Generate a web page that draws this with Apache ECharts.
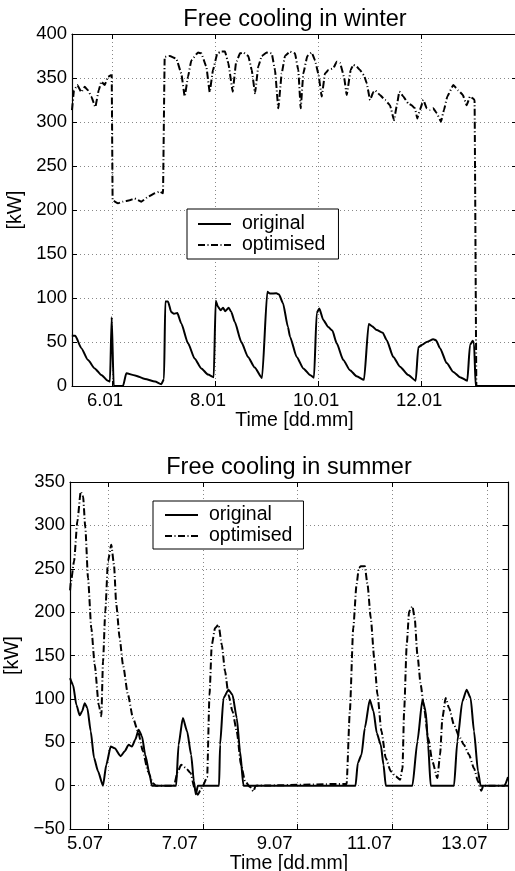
<!DOCTYPE html>
<html>
<head>
<meta charset="utf-8">
<script src="https://cdn.jsdelivr.net/npm/echarts@6/dist/echarts.min.js"></script>
<style>
    html, body { margin: 0; padding: 0; background: #fff; }
    #chart { width: 515px; height: 871px; }
</style>
</head>
<body>
<div id="chart"></div>
<script>
// time axis in days of the month, power in kW
const winterTicks = [6, 8, 10, 12];
const winterTickLabels = ['6.01', '8.01', '10.01', '12.01'];
const summerTicks = [5, 7, 9, 11, 13];
const summerTickLabels = ['5.07', '7.07', '9.07', '11.07', '13.07'];
const legendNames = ['original', 'optimised'];

const winterOriginal = [
    [5.22, 57], [5.287, 57], [5.404, 43], [5.534, 29.5], [5.664, 20], [5.792, 12.5], [5.922, 6], [5.96, 5],
    [5.994, 78], [6.033, 0], [6.214, 0], [6.278, 14.4], [6.447, 12], [6.64, 8], [6.835, 5], [6.957, 2],
    [7.01, 8], [7.035, 96], [7.087, 96], [7.151, 84], [7.204, 82], [7.268, 83], [7.346, 71], [7.476, 48.5],
    [7.606, 31], [7.734, 20], [7.864, 13], [7.975, 10], [8.014, 97], [8.058, 90], [8.111, 86], [8.155, 89],
    [8.2, 85], [8.266, 89], [8.317, 84], [8.383, 73], [8.511, 50], [8.641, 33], [8.771, 21], [8.913, 9],
    [9.016, 107], [9.068, 105], [9.19, 105.5], [9.243, 104], [9.32, 94], [9.417, 67], [9.456, 56], [9.586, 33],
    [9.715, 20], [9.845, 12.5], [9.922, 9.5], [9.975, 83], [10.025, 88], [10.103, 75], [10.2, 67], [10.278, 63],
    [10.363, 48.5], [10.491, 29.5], [10.621, 18], [10.751, 11], [10.893, 7], [10.984, 70.5], [11.049, 68],
    [11.14, 63.6], [11.256, 60.6], [11.334, 52], [11.462, 33], [11.592, 22], [11.753, 12.5], [11.897, 6],
    [11.948, 44], [12.014, 46.6], [12.111, 50], [12.239, 53], [12.291, 52], [12.369, 43], [12.499, 26],
    [12.627, 16], [12.757, 10], [12.899, 6], [12.951, 46.6], [13.004, 51.5], [13.03, 48], [13.062, 0], [13.87, 0]
];

const winterOptimised = [
    [5.223, 313.6], [5.262, 336], [5.326, 342], [5.404, 334], [5.47, 340], [5.534, 336], [5.598, 329],
    [5.676, 317], [5.742, 336], [5.792, 346], [5.858, 342], [5.922, 351.5], [5.975, 353], [5.994, 353],
    [6.012, 211], [6.117, 207.6], [6.214, 209.5], [6.344, 211], [6.441, 213], [6.569, 209.5], [6.699, 215],
    [6.829, 219], [6.926, 221], [6.99, 219], [7.023, 374], [7.12, 375], [7.249, 372], [7.346, 355],
    [7.412, 329], [7.476, 351.5], [7.54, 370], [7.67, 379], [7.734, 378], [7.831, 363], [7.897, 334],
    [7.961, 359], [8.045, 378], [8.122, 380], [8.194, 380], [8.258, 367], [8.344, 334.5], [8.408, 367],
    [8.485, 378], [8.55, 379], [8.647, 375], [8.713, 359], [8.777, 332.6], [8.841, 363], [8.907, 375],
    [9.004, 379], [9.101, 378], [9.165, 359], [9.229, 315.5], [9.295, 355], [9.359, 375], [9.456, 380],
    [9.553, 378], [9.617, 359], [9.664, 315.5], [9.715, 355], [9.792, 375], [9.878, 379], [9.942, 370],
    [10.006, 355], [10.072, 329], [10.136, 355], [10.2, 359], [10.297, 361], [10.363, 368.6], [10.427, 367],
    [10.505, 351.5], [10.557, 330.7], [10.635, 359], [10.685, 365], [10.751, 363], [10.816, 359], [10.893, 353],
    [10.946, 344], [11.01, 325], [11.074, 334], [11.107, 336], [11.204, 330.7], [11.301, 325], [11.398, 319],
    [11.476, 302], [11.528, 318], [11.579, 334.5], [11.656, 329], [11.753, 321], [11.819, 319], [11.883, 315.5],
    [11.928, 304], [11.981, 314], [12.045, 325], [12.111, 315.5], [12.175, 314], [12.239, 315.5], [12.305, 310],
    [12.388, 300.4], [12.447, 314], [12.511, 329], [12.627, 342], [12.724, 336], [12.81, 331], [12.887, 319],
    [12.951, 329], [13.004, 327], [13.04, 325], [13.075, 0], [13.87, 0]
];

const summerOriginal = [
    [4.2, 124], [4.263, 116], [4.333, 93], [4.404, 81], [4.453, 85.7], [4.509, 95], [4.564, 89.5],
    [4.636, 62.6], [4.705, 32], [4.789, 16.6], [4.895, 0], [4.964, 24], [5.057, 45], [5.141, 43], [5.267, 34],
    [5.352, 39.6], [5.436, 47], [5.505, 45], [5.575, 53], [5.646, 64.5], [5.716, 57], [5.785, 35.6],
    [5.878, 12.6], [5.926, 0], [6.438, 0], [6.488, 47], [6.579, 78], [6.669, 62.6], [6.754, 35.6], [6.811, 5],
    [6.853, -10], [6.895, 0], [7.343, 0], [7.364, 47], [7.436, 101], [7.541, 110.6], [7.625, 104.8],
    [7.716, 78], [7.785, 39.6], [7.857, 0], [10.221, 0], [10.269, 26], [10.347, 35.6], [10.417, 66.4],
    [10.522, 99], [10.6, 85.7], [10.669, 60.7], [10.754, 47], [10.811, 24], [10.859, 0], [11.421, 0],
    [11.526, 51], [11.632, 99], [11.701, 85.7], [11.752, 47], [11.806, 0], [12.299, 0], [12.368, 51],
    [12.474, 97], [12.564, 110.6], [12.648, 101], [12.72, 62.6], [12.804, 16.6], [12.859, 0], [13.364, 0],
    [13.437, 10]
];

const summerOptimised = [
    [4.2, 225], [4.215, 233.6], [4.284, 258.6], [4.354, 304.7], [4.425, 339], [4.474, 333.5], [4.522, 297],
    [4.579, 239], [4.648, 181.7], [4.72, 139.4], [4.804, 93.3], [4.859, 80], [4.895, 143], [4.943, 201],
    [5.0, 258.6], [5.069, 277.7], [5.126, 254.7], [5.175, 208.6], [5.246, 170], [5.316, 139.4], [5.421, 104.8],
    [5.526, 78], [5.632, 62.6], [5.737, 39.6], [5.842, 16.5], [5.947, 3], [6.011, 0], [6.389, 0], [6.474, 16.5],
    [6.543, 24], [6.648, 20], [6.741, 14.5], [6.825, -2.7], [6.895, -10.5], [6.952, -5], [7.0, 0], [7.091, 10],
    [7.141, 104.8], [7.189, 162.5], [7.259, 181.7], [7.331, 185.5], [7.4, 162.5], [7.469, 131.8], [7.541, 104.8],
    [7.625, 85.7], [7.716, 62.6], [7.806, 24], [7.891, 5], [7.996, -1.4], [8.067, -6.6], [8.116, 0],
    [10.032, 2], [10.101, 85.7], [10.173, 181.7], [10.242, 231.6], [10.291, 251], [10.333, 252.8],
    [10.417, 252.8], [10.474, 231.6], [10.543, 193], [10.615, 147], [10.684, 104.8], [10.768, 62.6],
    [10.859, 31.8], [10.964, 16.5], [11.069, 10.7], [11.162, 6.8], [11.211, 20], [11.246, 85.7], [11.301, 162.5],
    [11.352, 201], [11.421, 206.7], [11.469, 193], [11.526, 151], [11.596, 116], [11.667, 89.5], [11.752, 55],
    [11.842, 28], [11.947, 8.8], [12.004, 35.6], [12.053, 78], [12.122, 101], [12.194, 89.5], [12.299, 70],
    [12.404, 57], [12.509, 47], [12.615, 35.6], [12.72, 20], [12.804, 5], [12.874, -6], [12.916, 0], [13.437, 0]
];

const font = "'Liberation Sans', Arial, Helvetica, sans-serif";
const dashDot = [7, 2.5, 1, 2.5];

function bottomAxis(grid, ticks, labels, min, max, labelRich) {
    return {
        type: 'value', gridIndex: grid, position: 'bottom', min: min, max: max,
        axisLine: {show: true, onZero: false, lineStyle: {color: '#000', width: 1.2}},
        axisTick: {show: true, inside: true, length: 5, customValues: ticks, lineStyle: {color: '#000'}},
        axisLabel: {
            customValues: ticks, margin: 5,
            formatter: v => '{t|' + labels[ticks.indexOf(v)] + '}',
            rich: {t: labelRich}
        },
        splitLine: {show: true, lineStyle: {color: '#888', type: [1, 3], width: 1}},
        name: 'Time [dd.mm]', nameLocation: 'middle', nameGap: 15,
        nameTextStyle: {fontSize: 19.5, fontFamily: font, color: '#000'}
    };
}

function topAxis(grid, ticks, min, max) {
    return {
        type: 'value', gridIndex: grid, position: 'top', min: min, max: max,
        axisLine: {show: true, onZero: false, lineStyle: {color: '#000', width: 1.2}},
        axisTick: {show: true, inside: true, length: 5, customValues: ticks, lineStyle: {color: '#000'}},
        axisLabel: {show: false},
        splitLine: {show: false}
    };
}

function leftAxis(grid, min, max, nameGap) {
    return {
        type: 'value', gridIndex: grid, position: 'left', min: min, max: max, interval: 50,
        axisLine: {show: true, onZero: false, lineStyle: {color: '#000', width: 1.2}},
        axisTick: {show: true, inside: true, length: 5, lineStyle: {color: '#000'}},
        axisLabel: {
            margin: 5, fontSize: 18.5, fontFamily: font, color: '#000',
            formatter: v => String(v).replace('-', '\u2212')
        },
        splitLine: {show: true, lineStyle: {color: '#888', type: [1, 3], width: 1}},
        name: '[kW]', nameLocation: 'middle', nameGap: nameGap, nameRotate: 90,
        nameTextStyle: {fontSize: 19.5, fontFamily: font, color: '#000'}
    };
}

function rightAxis(grid, min, max) {
    return {
        type: 'value', gridIndex: grid, position: 'right', min: min, max: max, interval: 50,
        axisLine: {show: true, onZero: false, lineStyle: {color: '#000', width: 1.2}},
        axisTick: {show: true, inside: true, length: 5, lineStyle: {color: '#000'}},
        axisLabel: {show: false},
        splitLine: {show: false}
    };
}

function lineSeries(name, data, xi, yi, smooth) {
    return {
        type: 'line', name: name, data: data, xAxisIndex: xi, yAxisIndex: yi,
        symbol: 'none', showSymbol: false, animation: false,
        smooth: smooth, smoothMonotone: 'x',
        itemStyle: {color: '#000'},
        lineStyle: {color: '#000', width: 2, type: name === 'optimised' ? dashDot : 'solid'}
    };
}

function legend(left, top, padding) {
    return {
        orient: 'vertical', left: left, top: top, padding: padding,
        itemWidth: 33, itemHeight: 14, itemGap: 1, selectedMode: false,
        borderColor: '#000', borderWidth: 1, backgroundColor: '#fff',
        itemStyle: {opacity: 0},
        textStyle: {fontSize: 19.5, fontFamily: font, color: '#000', lineHeight: 20, padding: [0, 0, 0, 6]},
        data: legendNames
    };
}

const titleStyle = {fontSize: 23.5, fontWeight: 'normal', fontFamily: font, color: '#000'};
const tickText = {fontSize: 18.5, fontFamily: font, color: '#000'};

const option = {
    backgroundColor: '#fff',
    animation: false,
    title: [
        {text: 'Free cooling in winter', left: 295, top: 8, textAlign: 'center', padding: 0, textStyle: titleStyle},
        {text: 'Free cooling in summer', left: 289, top: 456, textAlign: 'center', padding: 0, textStyle: titleStyle}
    ],
    legend: [
        legend(187, 209, [5, 13, 4, 10]),
        legend(153, 501, [4, 11, 3, 11])
    ],
    grid: [
        {left: 72, top: 34, width: 445, height: 352, outerBoundsMode: 'none'},
        {left: 70, top: 482, width: 438, height: 347, outerBoundsMode: 'none'}
    ],
    xAxis: [
        bottomAxis(0, winterTicks, winterTickLabels, 5.2233, 13.864, Object.assign({width: 50, align: 'left'}, tickText)),
        topAxis(0, winterTicks, 5.2233, 13.864),
        bottomAxis(1, summerTicks, summerTickLabels, 4.1985, 13.437, Object.assign({padding: [0, 46, 0, 0]}, tickText)),
        topAxis(1, summerTicks, 4.1985, 13.437)
    ],
    yAxis: [
        leftAxis(0, 0, 400, 37),
        rightAxis(0, 0, 400),
        leftAxis(1, -50, 350, 35),
        rightAxis(1, -50, 350)
    ],
    series: [
        lineSeries('original', winterOriginal, 0, 0, 0.2),
        lineSeries('optimised', winterOptimised, 0, 0, 0.1),
        lineSeries('original', summerOriginal, 2, 2, 0.2),
        lineSeries('optimised', summerOptimised, 2, 2, 0.2)
    ]
};

const chart = echarts.init(document.getElementById('chart'));
chart.setOption(option);
window.addEventListener('resize', chart.resize, false);
</script>
</body>
</html>
